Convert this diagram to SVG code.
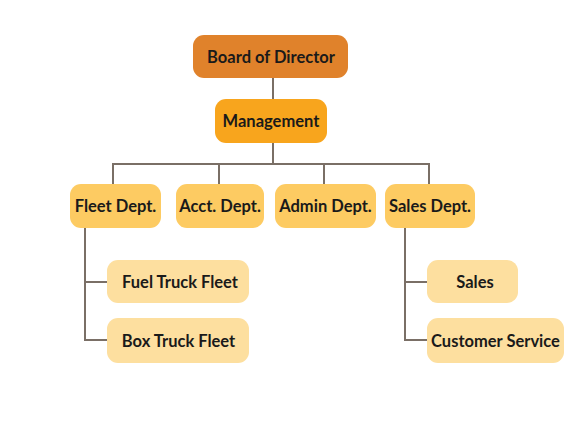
<svg xmlns="http://www.w3.org/2000/svg" width="575" height="426" viewBox="0 0 575 426">
<style>
  .lbl{font-family:Lato,"Liberation Sans",Arial,sans-serif;font-size:16.5px;font-weight:bold;fill:#1a1a1a;text-anchor:middle}
  .conn{fill:none;stroke:#7a6f66;stroke-width:2}
  .top{fill:#E0822B}
  .mgmt{fill:#F8A51D}
  .dept{fill:#FDCB62}
  .sub{fill:#FDDF9F}
</style>
<rect width="575" height="426" fill="#ffffff"/>
<g id="connectors">
  <path class="conn" d="M273 78 V99"/>
  <path class="conn" d="M273 143 V164"/>
  <path class="conn" d="M113 184 V164 H429 V184"/>
  <path class="conn" d="M219 164 V184"/>
  <path class="conn" d="M324 164 V184"/>
  <path class="conn" d="M85 228 V340 H107"/>
  <path class="conn" d="M85 282 H107"/>
  <path class="conn" d="M405 228 V340 H427"/>
  <path class="conn" d="M405 282 H427"/>
</g>
<g id="board"><rect class="top" x="193" y="35" width="155" height="43" rx="11"/><text class="lbl" x="271" y="62.5">Board of Director</text></g>
<g id="management"><rect class="mgmt" x="215" y="99" width="112" height="44" rx="11"/><text class="lbl" x="271" y="127">Management</text></g>
<g id="fleet"><rect class="dept" x="70" y="184" width="91" height="44" rx="11"/><text class="lbl" x="115.5" y="212">Fleet Dept.</text></g>
<g id="acct"><rect class="dept" x="176" y="184" width="88" height="44" rx="11"/><text class="lbl" x="220" y="212">Acct. Dept.</text></g>
<g id="admin"><rect class="dept" x="275" y="184" width="101" height="44" rx="11"/><text class="lbl" x="325.5" y="212">Admin Dept.</text></g>
<g id="sales-dept"><rect class="dept" x="385" y="184" width="90" height="44" rx="11"/><text class="lbl" x="430" y="212">Sales Dept.</text></g>
<g id="fuel"><rect class="sub" x="107" y="260" width="142" height="43" rx="11"/><text class="lbl" x="180" y="287.5">Fuel Truck Fleet</text></g>
<g id="box"><rect class="sub" x="107" y="318" width="142" height="45" rx="11"/><text class="lbl" x="178.5" y="346.5">Box Truck Fleet</text></g>
<g id="sales"><rect class="sub" x="427" y="260" width="91" height="43" rx="11"/><text class="lbl" x="475" y="287.5">Sales</text></g>
<g id="customer"><rect class="sub" x="427" y="318" width="137" height="45" rx="11"/><text class="lbl" x="495.5" y="346.5">Customer Service</text></g>
</svg>
